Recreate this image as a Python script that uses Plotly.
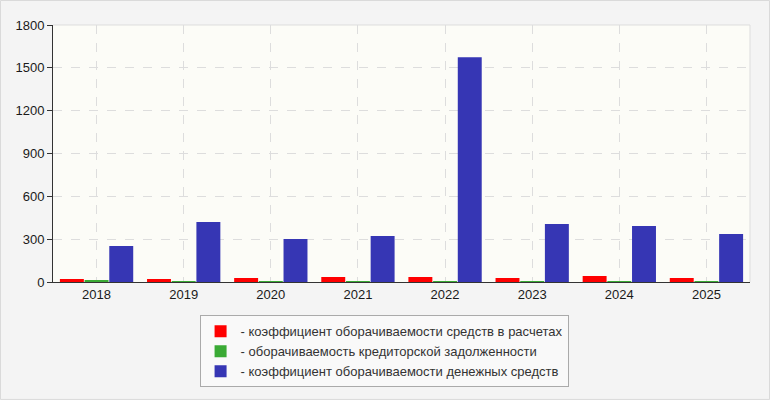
import plotly.graph_objects as go

years = ["2018", "2019", "2020", "2021", "2022", "2023", "2024", "2025"]
settlements_turnover = [21, 21, 28, 35, 35, 28, 42, 28]
payables_turnover = [14, 7, 7, 7, 6, 6, 6, 6]
cash_turnover = [252, 420, 301, 322, 1575, 406, 392, 336]

series = [
    ("- коэффициент оборачиваемости средств в расчетах", settlements_turnover, "#ff0000"),
    ("- оборачиваемость кредиторской задолженности", payables_turnover, "#3aaa35"),
    ("- коэффициент оборачиваемости денежных средств", cash_turnover, "#3636b4"),
]

fig = go.Figure()
for name, values, color in series:
    fig.add_trace(go.Bar(x=years, y=values, name=name, marker=dict(color=color, line=dict(width=0))))

fig.update_layout(
    width=770,
    height=400,
    barmode="group",
    bargap=0.15,
    bargroupgap=0.03,
    paper_bgcolor="#f4f4f4",
    plot_bgcolor="#fcfcf7",
    margin=dict(l=53, r=20, t=25, b=118, autoexpand=False),
    font=dict(family="Liberation Sans, Arial", size=13, color="#1a1a1a"),
    legend=dict(
        x=0.475,
        y=-0.13,
        xanchor="center",
        yanchor="top",
        bgcolor="#f9f9f9",
        bordercolor="#aaaaaa",
        borderwidth=1,
        font=dict(size=13, color="#333333"),
        tracegroupgap=0,
        itemwidth=30,
    ),
    xaxis=dict(
        showline=True,
        linecolor="#333333",
        linewidth=1,
        showgrid=True,
        gridcolor="#dddddd",
        griddash="dash",
        ticks="",
        tickangle=0,
        tickfont=dict(size=13, color="#1a1a1a"),
    ),
    yaxis=dict(
        range=[0, 1800],
        tickvals=[0, 300, 600, 900, 1200, 1500, 1800],
        showline=True,
        linecolor="#333333",
        linewidth=1,
        ticks="outside",
        ticklen=5,
        tickcolor="#333333",
        showgrid=True,
        gridcolor="#dddddd",
        griddash="dash",
        zeroline=False,
        tickfont=dict(size=13, color="#1a1a1a"),
    ),
)

# light frame on top and right of plot area
fig.add_shape(type="line", xref="paper", yref="paper", x0=0, x1=1, y0=1, y1=1,
              line=dict(color="#dddddd", width=1))
fig.add_shape(type="line", xref="paper", yref="paper", x0=1, x1=1, y0=0, y1=1,
              line=dict(color="#dddddd", width=1))

# outer border of the whole chart
fig.add_shape(type="rect", xref="paper", yref="paper",
              x0=-0.0753, x1=1.028, y0=-0.457, y1=1.0953,
              line=dict(color="#dadada", width=1), layer="below")

fig.write_html("out.html", config={"displayModeBar": False},
               post_script="document.body.style.margin='0';")
